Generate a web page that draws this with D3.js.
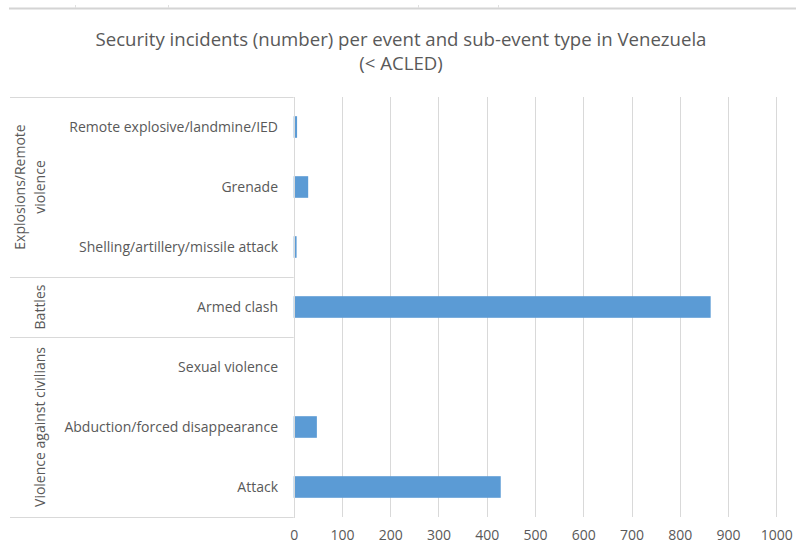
<!DOCTYPE html>
<html>
<head>
<meta charset="utf-8">
<script src="https://cdn.jsdelivr.net/npm/d3@7"></script>
<style>
  body { margin: 0; background: #fff; }
  svg text { font-family: "Open Sans", "Noto Sans", sans-serif; fill: #595959; }
</style>
</head>
<body>
<script>
(function() {

var subTypes = ["Remote explosive/landmine/IED", "Grenade", "Shelling/artillery/missile attack",
                "Armed clash",
                "Sexual violence", "Abduction/forced disappearance", "Attack"],
    incidents = [7, 30, 6, 864, 0, 48, 429],
    groups = [["Explosions/Remote", "violence"], ["Battles"], ["Violence against civilians"]],
    groupSizes = [3, 1, 3],
    ticks = [0, 100, 200, 300, 400, 500, 600, 700, 800, 900, 1000],
    titleLines = ["Security incidents (number) per event and sub-event type in Venezuela", "(< ACLED)"];

var width = 796, height = 554,
    left = 293.7, right = 776.3, top = 97, bottom = 517,
    labelLeft = 10,
    grid = "#d9d9d9", barColor = "#5b9bd5";

var svg = d3.select("body").append("svg")
    .attr("width", width)
    .attr("height", height);

var x = d3.scaleLinear().domain([0, 1000]).range([left, right]);
var y = d3.scaleBand().domain(subTypes).range([top, bottom])
    .paddingInner(0.64).paddingOuter(0.32);

// sheet border at the top
svg.append("line")
  .attr("x1", 9).attr("x2", width).attr("y1", 8.5).attr("y2", 8.5)
  .attr("stroke", "#d4d4d4").attr("stroke-width", 2);
svg.selectAll(".cell").data([75, 168, 418, 498]).enter().append("line")
  .attr("x1", function(d) { return d + 0.5; }).attr("x2", function(d) { return d + 0.5; })
  .attr("y1", 5).attr("y2", 8)
  .attr("stroke", "#e0e0e0");

// title
svg.append("text")
  .attr("text-anchor", "middle")
  .style("font-size", "18.6px")
  .selectAll("tspan").data(titleLines).enter().append("tspan")
    .attr("x", 401)
    .attr("y", function(d, i) { return 46 + i * 24; })
    .text(function(d) { return d; });

// gridlines
svg.append("g")
  .attr("transform", "translate(0," + bottom + ")")
  .call(d3.axisBottom(x).tickValues(ticks).tickSize(-(bottom - top)).tickFormat(function(d) { return d; }))
  .call(function(g) {
    g.select(".domain").remove();
    g.selectAll(".tick line").attr("stroke", grid).attr("shape-rendering", "crispEdges");
    g.selectAll(".tick text").attr("dy", "1.1em").attr("y", 8)
      .style("font-size", "14px").style("font-family", "'Open Sans', sans-serif").attr("fill", "#595959");
  });

// bars
svg.append("g").selectAll("rect")
  .data(incidents)
  .enter().append("rect")
    .attr("x", x(0))
    .attr("y", function(d, i) { return y(subTypes[i]); })
    .attr("width", function(d) { return x(d) - x(0); })
    .attr("height", y.bandwidth())
    .attr("fill", barColor);

// category axis: lines and labels
var step = y.step(),
    bounds = [top], acc = top;
groupSizes.forEach(function(n) { acc += n * step; bounds.push(acc); });

svg.append("g").selectAll("line")
  .data(bounds)
  .enter().append("line")
    .attr("x1", labelLeft).attr("x2", left)
    .attr("y1", function(d) { return Math.round(d) + 0.5; })
    .attr("y2", function(d) { return Math.round(d) + 0.5; })
    .attr("stroke", grid);

svg.append("line")
  .attr("x1", Math.round(left) + 0.5).attr("x2", Math.round(left) + 0.5)
  .attr("y1", top).attr("y2", bottom + 1)
  .attr("stroke", grid);

svg.append("g").selectAll("text")
  .data(subTypes)
  .enter().append("text")
    .attr("x", 278)
    .attr("y", function(d) { return y(d) + y.bandwidth() / 2; })
    .attr("dy", "0.35em")
    .attr("text-anchor", "end")
    .style("font-size", "14px")
    .text(function(d) { return d; });

groups.forEach(function(lines, gi) {
  var cy = (bounds[gi] + bounds[gi + 1]) / 2,
      n = lines.length;
  lines.forEach(function(line, li) {
    var cx = 40 - (n - 1 - li) * 20;
    svg.append("text")
      .attr("transform", "translate(" + cx + "," + cy + ") rotate(-90)")
      .attr("text-anchor", "middle")
      .attr("dy", "0.35em")
      .style("font-size", "14px")
      .text(line);
  });
});

}());
</script>
</body>
</html>
